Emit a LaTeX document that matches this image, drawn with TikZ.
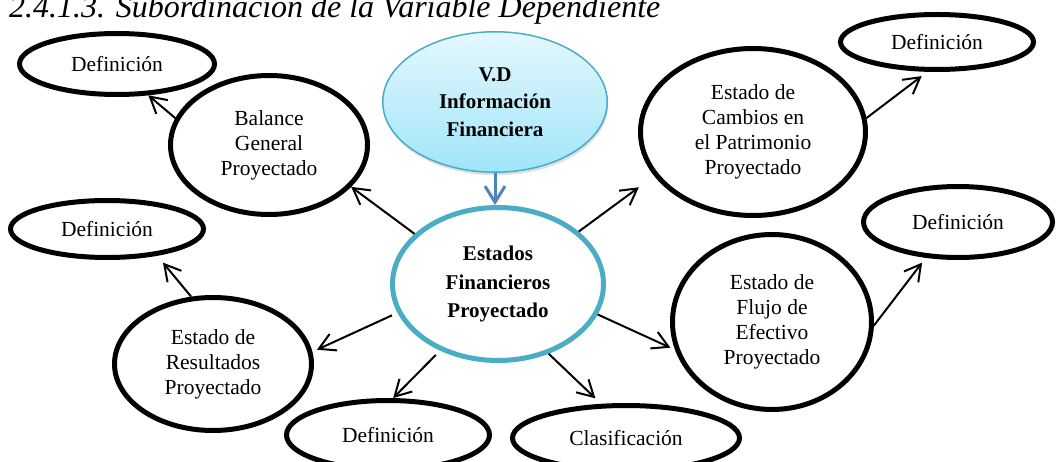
\documentclass[tikz,border=0pt]{standalone}
\usepackage{fontspec}
\setmainfont{Liberation Serif}
\usetikzlibrary{positioning}
\usetikzlibrary{shapes.geometric}
\usetikzlibrary{arrows.meta}
\usetikzlibrary{shadows}
\definecolor{vdborder}{RGB}{75,172,198}
\definecolor{vdtop}{RGB}{228,248,253}
\definecolor{vdbottom}{RGB}{160,229,249}
\definecolor{linkblue}{RGB}{79,129,189}

\begin{document}
\begin{tikzpicture}[%
    x=1pt, y=-1pt,
bnode/.style={ellipse, align=center, draw=black, line width=5pt, inner sep=0pt, font=\fontsize{21.5}{25}\selectfont},
cnode/.style={ellipse, align=center, draw=vdborder, line width=5pt, inner sep=0pt, font=\bfseries\fontsize{21}{28.5}\selectfont},
vnode/.style={ellipse, align=center, draw=vdborder, line width=1.5pt, inner sep=0pt, top color=vdtop, bottom color=vdbottom, drop shadow={opacity=0.25, shadow xshift=1pt, shadow yshift=-3pt}, font=\bfseries\fontsize{21}{27.5}\selectfont},
link/.style={-{Straight Barb[length=16pt,width=18pt]}, line width=2pt},
bluelink/.style={-{Straight Barb[length=16pt,width=20pt]}, line width=3pt, draw=linkblue}
]
\useasboundingbox (0,0) rectangle (1057,462);

% Title
\node[anchor=base west, inner sep=0pt, font=\itshape\fontsize{32}{36}\selectfont] (title) at (9,18) {2.4.1.3. Subordinación de la Variable Dependiente};

% Variable
\node[vnode, minimum width=224.5pt, minimum height=140.5pt] (vd) at (495,102) {V.D\\Información\\Financiera};
\node[cnode, minimum width=211pt, minimum height=153pt] (efp) at (498,284) {Estados\\Financieros\\Proyectado};
\draw[bluelink] (vd.south) -- (vd.south |- efp.north);

% Left Nodes
\node[bnode, minimum width=197pt, minimum height=139pt] (balance) at (269,145) {Balance\\General\\Proyectado};
\node[bnode, minimum width=195pt, minimum height=61pt] (defTL) at (117,64) {Definición};
\node[bnode, minimum width=197pt, minimum height=133pt] (resultados) at (213,364) {Estado de\\Resultados\\Proyectado};
\node[bnode, minimum width=193pt, minimum height=57pt] (defLM) at (107,229) {Definición};
\node[bnode, minimum width=203pt, minimum height=69pt] (defB) at (388,435) {Definición};

% Right Nodes
\node[bnode, minimum width=225pt, minimum height=167pt] (cambios) at (753,132) {Estado de\\Cambios en\\el Patrimonio\\Proyectado};
\node[bnode, minimum width=193pt, minimum height=55pt] (defTR) at (937,42) {Definición};
\node[bnode, minimum width=199pt, minimum height=175pt] (flujo) at (772,322) {Estado de\\Flujo de\\Efectivo\\Proyectado};
\node[bnode, minimum width=189pt, minimum height=71pt] (defR) at (958,222) {Definición};
\node[bnode, minimum width=227pt, minimum height=65pt] (clasif) at (626,438) {Clasificación};

% Left Lines
\draw[link] (efp.149) -- (balance.-27);
\draw[link] (balance.164) -- (defTL.-45);
\draw[link, shorten <=6pt, shorten >=5pt] (efp.196) -- (resultados.7);
\draw[link, shorten >=9pt] (resultados.108) -- (defLM.-28);
\draw[link, shorten <=6pt] (efp.229) -- (defB.82);

% Right Lines
\draw[link, shorten >=19pt] (efp.33) -- (cambios.204);
\draw[link, shorten >=7pt] (cambios.7) -- (defTR.252);
\draw[link, shorten >=5pt] (efp.-17) -- (flujo.196);
\draw[link, shorten >=6pt] (flujo.-2) -- (defR.228);
\draw[link, shorten >=8pt] (efp.-54) -- (clasif.126);

\end{tikzpicture}
\end{document}
